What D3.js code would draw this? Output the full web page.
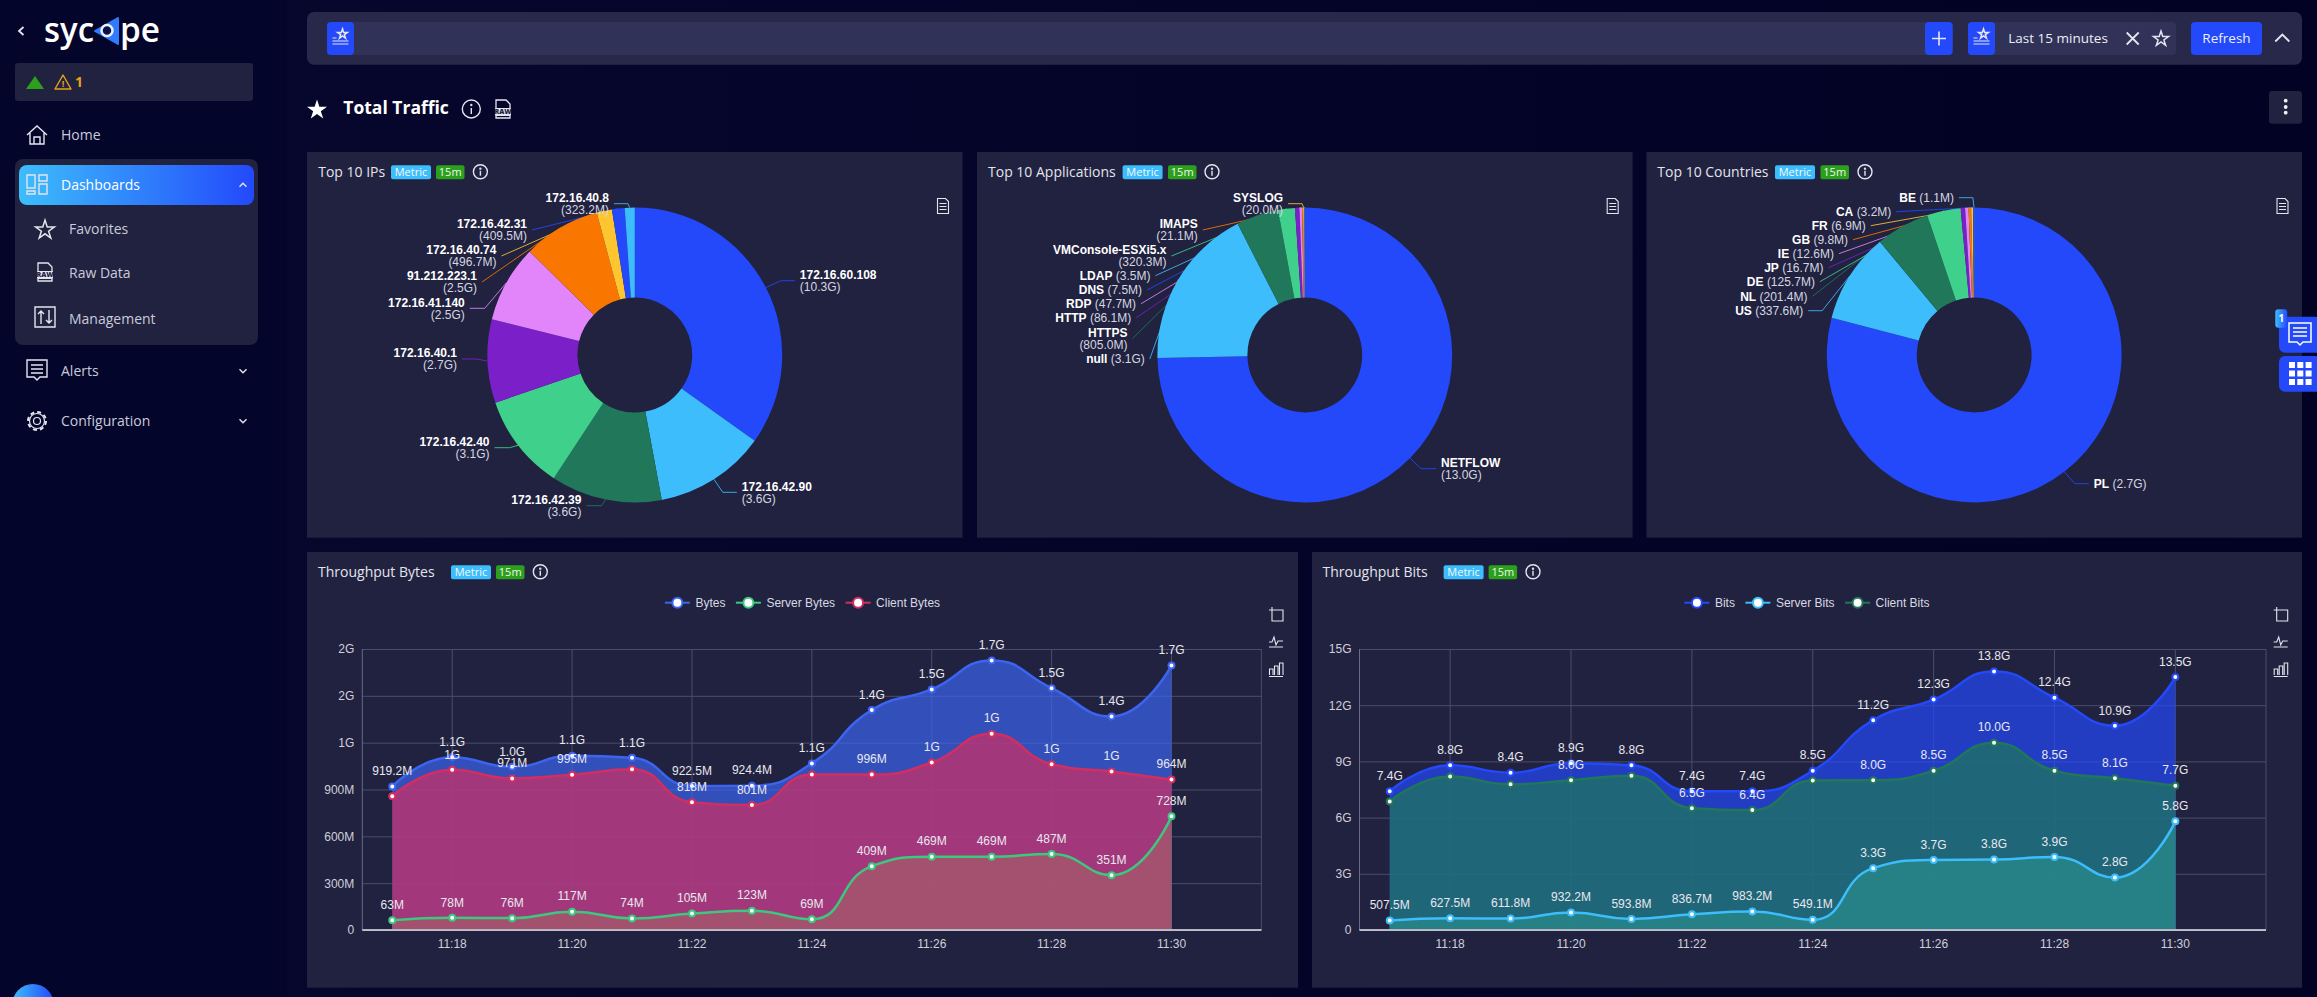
<!DOCTYPE html>
<html>
<head>
<meta charset="utf-8">
<title>Total Traffic</title>
<script src="https://d3js.org/d3.v7.min.js"></script>
<style>
  html, body { margin: 0; padding: 0; background: #04052a; overflow: hidden; }
  svg { display: block; }
  .axis path { display: none; }
  .axis line { stroke: #4c4d69; }
  .axis text { fill: #cfd0da; font: 12px "Liberation Sans", Arial, sans-serif; }
</style>
</head>
<body>
<div id="app"></div>
<script>
// pie data
var ipNames = ["172.16.60.108", "172.16.42.90", "172.16.42.39", "172.16.42.40", "172.16.40.1",
  "172.16.41.140", "91.212.223.1", "172.16.40.74", "172.16.42.31", "172.16.40.8"];
var ipValues = [10.3e9, 3.6e9, 3.6e9, 3.1e9, 2.7e9, 2.5e9, 2.5e9, 496.7e6, 409.5e6, 323.2e6];

var appNames = ["NETFLOW", "null", "HTTPS", "VMConsole-ESXi5.x", "HTTP", "RDP", "IMAPS", "SYSLOG", "DNS", "LDAP"];
var appValues = [13.0e9, 3.1e9, 805.0e6, 320.3e6, 86.1e6, 47.7e6, 21.1e6, 20.0e6, 7.5e6, 3.5e6];

var countryNames = ["PL", "US", "NL", "DE", "JP", "IE", "GB", "FR", "CA", "BE"];
var countryValues = [2.7e9, 337.6e6, 201.4e6, 125.7e6, 16.7e6, 12.6e6, 9.8e6, 6.9e6, 3.2e6, 1.1e6];

// time series data
var minutes = ["11:17", "11:18", "11:19", "11:20", "11:21", "11:22", "11:23", "11:24",
  "11:25", "11:26", "11:27", "11:28", "11:29", "11:30", "11:31"];

var bytesTotal = [919.2e6, 1107e6, 1045e6, 1116e6, 1103e6, 922.5e6, 924.4e6, 1067e6, 1409e6, 1541e6, 1727e6, 1549e6, 1368e6, 1695e6];
var bytesServer = [63e6, 78e6, 76e6, 117e6, 74e6, 105e6, 123e6, 69e6, 409e6, 469e6, 469e6, 487e6, 351e6, 728e6];
var bytesClient = [857e6, 1026e6, 971e6, 995e6, 1030e6, 818e6, 801e6, 996e6, 996e6, 1073e6, 1257e6, 1062e6, 1015e6, 964e6];
var bytesTicks = [0, 300e6, 600e6, 900e6, 1200e6, 1500e6, 1800e6];

var bitsTotal = [7.4e9, 8.8e9, 8.4e9, 8.9e9, 8.8e9, 7.4e9, 7.4e9, 8.5e9, 11.2e9, 12.3e9, 13.8e9, 12.4e9, 10.9e9, 13.5e9];
var bitsServer = [507.5e6, 627.5e6, 611.8e6, 932.2e6, 593.8e6, 836.7e6, 983.2e6, 549.1e6, 3.3e9, 3.74e9, 3.76e9, 3.9e9, 2.8e9, 5.8e9];
var bitsClient = [6.86e9, 8.19e9, 7.78e9, 8.0e9, 8.23e9, 6.5e9, 6.4e9, 7.98e9, 8.0e9, 8.5e9, 10.0e9, 8.5e9, 8.1e9, 7.7e9];
var bitsTicks = [0, 3e9, 6e9, 9e9, 12e9, 15e9];

// points whose value label the chart leaves out because it would collide
var bytesClientHidden = [0, 4, 7];
var bitsClientHidden = [0, 1, 2, 4, 7];

// where pie labels sit, relative to the pie centre: [x, y, horizontal run of the leader, inline]
var ipSpots = [[165, -74.3, 14], [107, 137.3, 14], [-53.4, 150.7, 15], [-145.3, 92.7, 15], [-177.8, 4, 15],
  [-170, -46.7, 15], [-157.8, -73, 0], [-138.4, -99, 0], [-107.8, -125, 0], [-25.8, -151.3, 14]];
var appSpots = [[136.2, 113.7, 15], [-160, 4, 0, true], [-177.4, -16.3, 0], [-138.4, -99, 0], [-173.5, -37.3, 0, true],
  [-168.7, -51.3, 0, true], [-107.1, -125, 0], [-21.7, -151.3, 14], [-162.7, -65, 0, true], [-154.4, -79.3, 0, true]];
var countrySpots = [[119.6, 128.7, 14, true], [-171, -44.3, 14, true], [-166.7, -58.7, 0, true], [-159.3, -73.3, 0, true],
  [-150.7, -87.3, 0, true], [-140.3, -101.3, 0, true], [-126.1, -115.3, 0, true], [-108.4, -129.3, 0, true],
  [-82.9, -143.3, 0, true], [-20.3, -157.3, 14, true]];

var sliceColors = ["#2349fb", "#3dbdfb", "#20775a", "#3fd08c", "#7b20c8", "#e285fb", "#f97700", "#fdc530", "#2349fb", "#3dbdfb"];

var uiFont = "'Open Sans', sans-serif";
var chartFont = "'Liberation Sans', Arial, sans-serif";
var blue = "#2349fb", panelFill = "#21223f", iconColor = "#e4e5ee";

var svg = d3.select("#app").append("svg").attr("width", 2317).attr("height", 997);
var defs = svg.append("defs");

function gradient(id, from, to) {
  var g = defs.append("linearGradient").attr("id", id);
  g.append("stop").attr("offset", "0%").attr("stop-color", from);
  g.append("stop").attr("offset", "100%").attr("stop-color", to);
}
gradient("mainBg", "#07072f", "#020224");
gradient("menuBg", "#3dbdfb", "#2349fb");

function rect(parent, x, y, w, h, fill, r) {
  return parent.append("rect").attr("x", x).attr("y", y).attr("width", w).attr("height", h)
    .attr("rx", r || 0).attr("fill", fill);
}
function label(parent, x, y, str, size, fill, weight, anchor, font) {
  return parent.append("text").attr("x", x).attr("y", y).attr("dy", ".35em")
    .attr("text-anchor", anchor || "start")
    .style("font-family", font || uiFont).style("font-size", size + "px")
    .style("font-weight", weight || 400).attr("fill", fill).text(str);
}
function icon(x, y) {
  return svg.append("g").attr("transform", "translate(" + x + "," + y + ")")
    .attr("fill", "none").attr("stroke", iconColor).attr("stroke-width", 1.4);
}
function path(g, d) { return g.append("path").attr("d", d); }

function star(x, y, size, filled) {
  svg.append("path").attr("d", d3.symbol().type(d3.symbolStar).size(size)())
    .attr("transform", "translate(" + x + "," + y + ")")
    .attr("fill", filled ? "#fff" : "none").attr("stroke", filled ? "none" : iconColor).attr("stroke-width", 1.5);
}
function chevron(x, y, up, size) {
  var s = size || 3.5;
  path(icon(x, y), up ? "M" + -s + "," + s / 2 + "L0," + -s / 2 + "L" + s + "," + s / 2 : "M" + -s + "," + -s / 2 + "L0," + s / 2 + "L" + s + "," + -s / 2);
}
function infoIcon(x, y, r) {
  var g = icon(x, y);
  g.append("circle").attr("r", r);
  path(g, "M0,-1V" + r * 0.55);
  g.append("circle").attr("cy", -r * 0.45).attr("r", 0.5);
}
function docIcon(x, y) {
  var g = icon(x, y).attr("stroke-width", 1.1);
  path(g, "M-5.5,-7.5H2.5L5.5,-4.5V7.5H-5.5Z");
  path(g, "M-3.5,-2.5H3.5M-3.5,0.5H3.5M-3.5,3.5H3.5");
}
function rawIcon(x, y, k) {
  var g = icon(x, y).attr("stroke-width", 1.3);
  path(g, "M" + -7 * k + ",0V" + -9 * k + "H" + 3 * k + "L" + 7 * k + "," + -5 * k + "V0M" + -7 * k + "," + 7 * k + "V" + 9 * k + "H" + 7 * k + "V" + 7 * k);
  rect(svg, x - 8 * k, y - 1 * k, 16 * k, 8 * k, iconColor, 1);
  label(svg, x, y + 3 * k, "RAW", 7 * k, "#21223f", 800, "middle");
}
function listStarIcon(x, y) {
  var g = icon(x, y).attr("stroke-width", 1.1);
  path(g, "M-8,2H-4M-8,5H8M-8,8H8");
  star(x + 2, y - 2, 30, false);
}

// page frame
rect(svg, 0, 0, 2317, 997, "url(#mainBg)");
rect(svg, 0, 0, 287, 997, "#04052a");

// sidebar
path(icon(21, 31).attr("stroke-width", 1.8), "M2.5,-4L-2,0L2.5,4");
label(svg, 44, 30, "syc", 35, "#fff", 600).attr("textLength", 50).attr("lengthAdjust", "spacingAndGlyphs");
svg.append("path").attr("d", "M95,31L118,18V44Z").attr("fill", "#2f7bfb").attr("stroke", "#2f7bfb").attr("stroke-width", 2).attr("stroke-linejoin", "round");
svg.append("circle").attr("cx", 107).attr("cy", 30.5).attr("r", 5.5).attr("fill", "#0d1046").attr("stroke", "#e6f3ff").attr("stroke-width", 2.5);
label(svg, 120, 30, "pe", 35, "#fff", 600).attr("textLength", 40).attr("lengthAdjust", "spacingAndGlyphs");

rect(svg, 15, 63, 238, 38, panelFill, 3);
svg.append("path").attr("d", "M26,89L35,76L44,89Z").attr("fill", "#2ca01c");
svg.append("path").attr("d", "M63,75L71,89H55Z").attr("fill", "none").attr("stroke", "#e8a317").attr("stroke-width", 1.4).attr("stroke-linejoin", "round");
label(svg, 63, 84, "!", 9, "#e8a317", 700, "middle");
label(svg, 75, 82, "1", 14, "#e8a317", 700);

var menuColor = "#c9cbdc";
label(svg, 61, 135, "Home", 14, menuColor);
var home = icon(37, 135);
path(home, "M-10,0L0,-9L10,0M-7,-2V9H7V-2M-3,9V2H3V9");

rect(svg, 15, 159, 243, 186, panelFill, 8);
rect(svg, 19, 165, 235, 40, "url(#menuBg)", 8);
label(svg, 61, 185, "Dashboards", 14, "#fff");
chevron(243, 185, true);
var dash = icon(37, 184);
path(dash, "M-10,-9H-2V4H-10ZM2,-9H10V-3H2ZM2,0H10V10H2ZM-10,7H-2V10H-10Z");

label(svg, 69, 229, "Favorites", 14, menuColor);
star(45, 230, 110, false);
label(svg, 69, 273, "Raw Data", 14, menuColor);
rawIcon(45, 272, 1);
label(svg, 69, 319, "Management", 14, menuColor);
var sliders = icon(45, 317);
path(sliders, "M-10,-10H10V10H-10ZM-4,7V-6M-7,-3L-4,-6L-1,-3M4,-7V6M1,3L4,6L7,3");

label(svg, 61, 371, "Alerts", 14, menuColor);
var alertsIcon = icon(37, 369);
path(alertsIcon, "M-10,-9H10V8H3L0,11L-3,8H-10ZM-6,-4H6M-6,0H6M-6,4H6");
chevron(243, 371, false);

label(svg, 61, 421, "Configuration", 14, menuColor);
var gear = icon(37, 421).attr("stroke-width", 1.2);
gear.append("circle").attr("r", 3.5);
gear.append("circle").attr("r", 7.5);
gear.append("circle").attr("r", 9).attr("stroke-width", 2).attr("stroke-dasharray", "4 3.06");
chevron(243, 421, false);

svg.append("circle").attr("cx", 33).attr("cy", 1005).attr("r", 21).attr("fill", "url(#menuBg)");

// top bar
rect(svg, 307, 12, 1995, 52.7, "#27284a", 7);
rect(svg, 327, 22, 1625.7, 33, "#313258", 4);
rect(svg, 327, 22, 27, 33, blue, 4);
listStarIcon(340.5, 36);
rect(svg, 1925, 22, 27.7, 33, blue, 4);
path(icon(1939, 38.5).attr("stroke-width", 1.6), "M-7,0H7M0,-7V7");
rect(svg, 1968, 22, 208, 33, "#313258", 4);
rect(svg, 1968, 22, 27, 33, blue, 4);
listStarIcon(1981.5, 36);
label(svg, 2008.3, 38.5, "Last 15 minutes", 13.5, "#eceef5");
path(icon(2132.7, 38.5).attr("stroke-width", 1.8), "M-6,-6L6,6M6,-6L-6,6");
star(2161, 39, 70, false);
rect(svg, 2191, 22, 71, 33, blue, 4);
label(svg, 2226.5, 38.5, "Refresh", 13.5, "#eceef5", 400, "middle");
path(icon(2282.3, 38).attr("stroke-width", 1.9), "M-7,3.5L0,-3.5L7,3.5");

// page title
star(317, 110, 125, true);
label(svg, 343.3, 108, "Total Traffic", 17.5, "#fff", 700);
infoIcon(471.3, 109, 9);
rawIcon(503, 109, 1);
rect(svg, 2269, 91, 33, 32.7, panelFill, 3);
[100.7, 107, 112.7].forEach(function (y) {
  svg.append("circle").attr("cx", 2285.7).attr("cy", y).attr("r", 1.9).attr("fill", "#f0f0f5");
});

function panelHead(y, titleX, title, metricX, tagX, infoX) {
  label(svg, titleX, y, title, 14, "#e3e4ec");
  rect(svg, metricX, y - 7, 40, 14, "#3dbdfb", 2);
  label(svg, metricX + 20, y, "Metric", 11, "#f4f9ff", 400, "middle");
  rect(svg, tagX, y - 7, 28.5, 14, "#2ca01c", 2);
  label(svg, tagX + 14.2, y, "15m", 11, "#eef8ec", 400, "middle");
  infoIcon(infoX, y - 0.5, 7);
}

function fmtOne(v) {
  return v < 1e9 ? (v / 1e6).toFixed(1) + "M" : (v / 1e9).toFixed(1) + "G";
}
function fmtWhole(v) {
  return v < 1e9 ? Math.round(v / 1e6) + "M" : Math.round(v / 1e9) + "G";
}

// pies
function drawPie(cx, names, values, spots) {
  var cy = 355;
  var g = svg.append("g").attr("transform", "translate(" + cx + "," + cy + ")");
  var slices = d3.pie().sort(null).value(function (d) { return d; })(values);
  var arc = d3.arc().innerRadius(57.4).outerRadius(147.4);
  var rim = d3.arc().innerRadius(147.4).outerRadius(147.4);

  // leaders run behind the slices
  slices.forEach(function (s, i) {
    var spot = spots[i], left = spot[0] < 0;
    var end = spot[0] + (left ? 5 : -5);
    var elbow = end + (left ? spot[2] : -spot[2]);
    g.append("path")
      .attr("d", d3.line()([rim.centroid(s), [elbow, spot[1]], [end, spot[1]]]))
      .attr("fill", "none").attr("stroke", sliceColors[i]).attr("stroke-opacity", 0.85).attr("stroke-width", 1);
  });

  g.selectAll("path.slice").data(slices).enter().append("path")
    .attr("class", "slice")
    .attr("d", arc)
    .attr("fill", function (d, i) { return sliceColors[i]; });

  slices.forEach(function (s, i) {
    var spot = spots[i], anchor = spot[0] < 0 ? "end" : "start";
    if (spot[3]) {
      var t = label(g, spot[0], spot[1], null, 12, "#fff", 700, anchor, chartFont);
      t.append("tspan").text(names[i]);
      t.append("tspan").attr("fill", "#d5d6e0").style("font-weight", 400).text(" (" + fmtOne(values[i]) + ")");
    } else {
      label(g, spot[0], spot[1] - 6, names[i], 12, "#fff", 700, anchor, chartFont);
      label(g, spot[0], spot[1] + 6, "(" + fmtOne(values[i]) + ")", 12, "#d5d6e0", 400, anchor, chartFont);
    }
  });
}

rect(svg, 307, 152, 655.6, 385.7, panelFill);
rect(svg, 977, 152, 655.6, 385.7, panelFill);
rect(svg, 1646.5, 152, 655.5, 385.7, panelFill);
panelHead(172.3, 318.2, "Top 10 IPs", 391, 436, 480.4);
panelHead(172.3, 988, "Top 10 Applications", 1122.6, 1168, 1212);
panelHead(172.3, 1657.3, "Top 10 Countries", 1775, 1820.5, 1865);
docIcon(943, 206);
docIcon(1612.7, 206);
docIcon(2282.5, 206);

drawPie(634.8, ipNames, ipValues, ipSpots);
drawPie(1304.8, appNames, appValues, appSpots);
drawPie(1974.2, countryNames, countryValues, countrySpots);

// echarts style smoothing: control points follow the neighbours but never pass the next value
function smoothCurve(context) {
  return {
    areaStart: function () { this._line = 0; },
    areaEnd: function () { this._line = NaN; },
    lineStart: function () { this._pts = []; },
    point: function (x, y) { this._pts.push([+x, +y]); },
    lineEnd: function () {
      var p = this._pts, n = p.length, k = 0.5;
      if (n) {
        if (this._line) context.lineTo(p[0][0], p[0][1]); else context.moveTo(p[0][0], p[0][1]);
        var out = p[0].slice();
        for (var i = 1; i < n; i++) {
          var cur = p[i], cin = cur, nextOut = cur;
          if (i < n - 1) {
            var prev = p[i - 1], next = p[i + 1];
            var lp = Math.hypot(cur[0] - prev[0], cur[1] - prev[1]);
            var ln = Math.hypot(next[0] - cur[0], next[1] - cur[1]);
            var r = ln / (ln + lp) || 0;
            var ox = cur[0] + (next[0] - prev[0]) * r * k;
            var oy = cur[1] + (next[1] - prev[1]) * r * k;
            ox = Math.max(Math.min(ox, Math.max(next[0], cur[0])), Math.min(next[0], cur[0]));
            oy = Math.max(Math.min(oy, Math.max(next[1], cur[1])), Math.min(next[1], cur[1]));
            var ix = cur[0] - (ox - cur[0]) * lp / (ln || 1);
            var iy = cur[1] - (oy - cur[1]) * lp / (ln || 1);
            ix = Math.max(Math.min(ix, Math.max(prev[0], cur[0])), Math.min(prev[0], cur[0]));
            iy = Math.max(Math.min(iy, Math.max(prev[1], cur[1])), Math.min(prev[1], cur[1]));
            cin = [ix, iy];
            nextOut = [cur[0] + (cur[0] - ix) * ln / (lp || 1), cur[1] + (cur[1] - iy) * ln / (lp || 1)];
          }
          context.bezierCurveTo(out[0], out[1], cin[0], cin[1], cur[0], cur[1]);
          out = nextOut;
        }
      }
      if (this._line || (this._line !== 0 && n === 1)) context.closePath();
      this._line = 1 - this._line;
    }
  };
}

function drawFlow(opt) {
  var top = 649, bottom = 930;
  var x = d3.scaleBand().domain(minutes).range([opt.left, opt.right]);
  var y = d3.scaleLinear().domain([0, opt.ticks[opt.ticks.length - 1]]).range([bottom, top]);
  var px = function (d, i) { return x(minutes[i]) + x.bandwidth() / 2; };

  svg.append("g").attr("class", "axis")
    .attr("transform", "translate(" + opt.left + ",0)")
    .call(d3.axisLeft(y).tickValues(opt.ticks).tickSize(-(opt.right - opt.left)).tickPadding(8)
      .tickFormat(function (v) { return v === 0 ? "0" : fmtWhole(v); }));

  svg.append("g").attr("class", "axis")
    .attr("transform", "translate(0," + bottom + ")")
    .call(d3.axisBottom(x).tickValues(minutes.filter(function (m, i) { return i % 2 === 1; }))
      .tickSize(-(bottom - top)).tickPadding(9));

  svg.append("line").attr("x1", opt.left).attr("x2", opt.left).attr("y1", top).attr("y2", bottom).attr("stroke", "#6a6b86");
  svg.append("line").attr("x1", opt.right).attr("x2", opt.right).attr("y1", top).attr("y2", bottom).attr("stroke", "#4c4d69");

  var area = d3.area().x(px).y0(bottom - 1).y1(function (d) { return y(d); }).curve(smoothCurve);
  var line = d3.line().x(px).y(function (d) { return y(d); }).curve(smoothCurve);

  opt.series.forEach(function (s) {
    svg.append("path").datum(s.values).attr("d", area).attr("fill", s.color).attr("fill-opacity", 0.7);
  });
  svg.append("line").attr("x1", opt.left).attr("x2", opt.right).attr("y1", bottom).attr("y2", bottom)
    .attr("stroke", "#e6e7f0").attr("stroke-width", 1.5);

  opt.series.forEach(function (s) {
    svg.append("path").datum(s.values).attr("d", line).attr("fill", "none")
      .attr("stroke", s.color).attr("stroke-width", 2.5);
  });
  opt.series.forEach(function (s) {
    svg.selectAll(null).data(s.values).enter().append("circle")
      .attr("cx", px).attr("cy", function (d) { return y(d); }).attr("r", 3)
      .attr("fill", "#fff").attr("stroke", s.color).attr("stroke-width", 2);
  });
  opt.series.forEach(function (s) {
    var hidden = s.hidden || [];
    svg.selectAll(null).data(s.values).enter().append("text")
      .attr("x", px)
      .attr("y", function (d) { return y(d) - 15.5; })
      .attr("dy", ".35em").attr("text-anchor", "middle")
      .style("font-family", chartFont).style("font-size", "12px").attr("fill", "#e8e8ef")
      .text(function (d, i) { return hidden.indexOf(i) < 0 ? s.format(d) : ""; });
  });

  // legend is centred over the panel
  var legend = svg.append("g");
  var cursor = 0;
  opt.series.forEach(function (s) {
    var item = legend.append("g").attr("transform", "translate(" + cursor + ",0)");
    item.append("line").attr("x2", 25).attr("stroke", s.color).attr("stroke-width", 2);
    item.append("circle").attr("cx", 12.5).attr("r", 5).attr("fill", "#fff").attr("stroke", s.color).attr("stroke-width", 2);
    var t = label(item, 30.5, 0, s.name, 12, "#d8d9e2", 400, "start", chartFont);
    cursor += 30.5 + t.node().getComputedTextLength() + 10.5;
  });
  legend.attr("transform", "translate(" + (opt.centre - (cursor - 10.5) / 2) + ",602.7)");
}

rect(svg, 307, 552, 991, 435.7, panelFill);
rect(svg, 1312, 552, 990, 435.7, panelFill);
panelHead(572.3, 318, "Throughput Bytes", 451, 496, 540.3);
panelHead(572.3, 1322.5, "Throughput Bits", 1443.6, 1488.6, 1533);

drawFlow({
  left: 362.3, right: 1261.4, centre: 802.5, ticks: bytesTicks,
  series: [
    { name: "Bytes", values: bytesTotal, color: "#3c64f0", format: fmtOne },
    { name: "Server Bytes", values: bytesServer, color: "#3cc87d", format: fmtWhole },
    { name: "Client Bytes", values: bytesClient, color: "#d22e61", format: fmtWhole, hidden: bytesClientHidden }
  ]
});

drawFlow({
  left: 1359.5, right: 2266, centre: 1807, ticks: bitsTicks,
  series: [
    { name: "Bits", values: bitsTotal, color: "#2349fb", format: fmtOne },
    { name: "Server Bits", values: bitsServer, color: "#3dbdfb", format: fmtOne },
    { name: "Client Bits", values: bitsClient, color: "#20775a", format: fmtOne, hidden: bitsClientHidden }
  ]
});

// chart tool icons
[1276, 2280.7].forEach(function (ix) {
  var crop = icon(ix, 614).attr("stroke-width", 1.1);
  path(crop, "M-5,-4H7V7H-4V-7M-7,-4H-2");
  var wave = icon(ix, 642).attr("stroke-width", 1.1);
  path(wave, "M-7,0H-4L-2,-5L0,3L2,-1H7M-7,5H7");
  var bars = icon(ix, 669).attr("stroke-width", 1.1);
  path(bars, "M-6.5,6V0H-3V6M-1.5,6V-3H2V6M3.5,6V-6H7V6M-7,7.5H7");
});

// floating side buttons
rect(svg, 2279, 316.7, 50, 36, blue, 6);
rect(svg, 2279, 356, 50, 35.7, blue, 6);
rect(svg, 2275.3, 309.3, 12, 18.4, "url(#menuBg)", 3);
label(svg, 2281.3, 318.5, "1", 10, "#fff", 700, "middle");
path(icon(2300, 333).attr("stroke", "#fff").attr("stroke-width", 1.5), "M-11,-10H11V9H3L0,12L-3,9H-11ZM-7,-5H7M-7,-1H7M-7,3H7");
[2289, 2297.3, 2305.6].forEach(function (gx) {
  [362, 370.5, 379].forEach(function (gy) { rect(svg, gx, gy, 6, 6, "#fff"); });
});
</script>
</body>
</html>
